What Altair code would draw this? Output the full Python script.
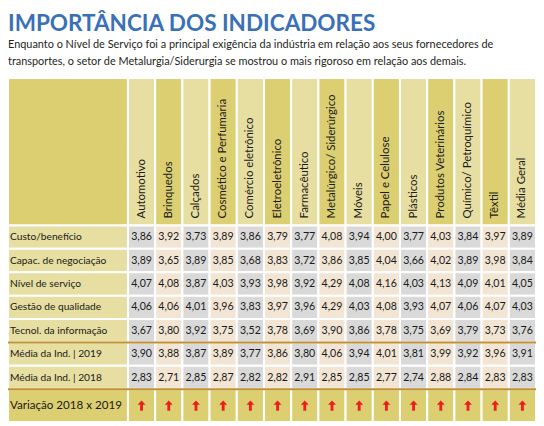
import altair as alt
import pandas as pd

title = "IMPORTÂNCIA DOS INDICADORES"
subtitle = [
    "Enquanto o Nível de Serviço foi a principal exigência da indústria em relação aos seus fornecedores de",
    "transportes, o setor de Metalurgia/Siderurgia se mostrou o mais rigoroso em relação aos demais.",
]
sectors = ["Automotivo", "Brinquedos", "Calçados", "Cosmético e Perfumaria", "Comércio eletrônico",
           "Eletroeletrônico", "Farmacêutico", "Metalúrgico/ Siderúrgico", "Móveis", "Papel e Celulose",
           "Plásticos", "Produtos Veterinários", "Químico/ Petroquímico", "Têxtil", "Média Geral"]
indicators = ["Custo/benefício", "Capac. de negociação", "Nível de serviço", "Gestão de qualidade",
              "Tecnol. da informação", "Média da Ind. | 2019", "Média da Ind. | 2018"]
custo = [3.86, 3.92, 3.73, 3.89, 3.86, 3.79, 3.77, 4.08, 3.94, 4.00, 3.77, 4.03, 3.84, 3.97, 3.89]
capac = [3.89, 3.65, 3.89, 3.85, 3.68, 3.83, 3.72, 3.86, 3.85, 4.04, 3.66, 4.02, 3.89, 3.98, 3.84]
nivel = [4.07, 4.08, 3.87, 4.03, 3.93, 3.98, 3.92, 4.29, 4.08, 4.16, 4.03, 4.13, 4.09, 4.01, 4.05]
gestao = [4.06, 4.06, 4.01, 3.96, 3.83, 3.97, 3.96, 4.29, 4.03, 4.08, 3.93, 4.07, 4.06, 4.07, 4.03]
tecnol = [3.67, 3.80, 3.92, 3.75, 3.52, 3.78, 3.69, 3.90, 3.86, 3.78, 3.75, 3.69, 3.79, 3.73, 3.76]
media2019 = [3.90, 3.88, 3.87, 3.89, 3.77, 3.86, 3.80, 4.06, 3.94, 4.01, 3.81, 3.99, 3.92, 3.96, 3.91]
media2018 = [2.83, 2.71, 2.85, 2.87, 2.82, 2.82, 2.91, 2.85, 2.85, 2.77, 2.74, 2.88, 2.84, 2.83, 2.83]
footer_label = "Variação 2018 x 2019"

series = [custo, capac, nivel, gestao, tecnol, media2019, media2018]

# ---- layout / style ----
NCOL = len(sectors)
NROW = len(indicators)
LW = 4.41   # label column width (column units)
HH = 6.3    # header height (row units)
FH = 1.4    # footer height (row units)
DARK = "#dccf72"
LIGHT = "#e7dfa1"
GRAY = "#d9d9d9"
BEIGE = "#f2e5d3"
LINE = "#bf8f30"
FONT = "Lato, Roboto, sans-serif"

xs = alt.Scale(domain=[-LW, NCOL], nice=False, zero=False)
ys = alt.Scale(domain=[-HH, NROW + FH], nice=False, zero=False, reverse=True)

rects = []
rects.append(dict(x0=-LW, x1=0, y0=-HH, y1=0, fill=DARK))
for i in range(NCOL):
    rects.append(dict(x0=i, x1=i + 1, y0=-HH, y1=0, fill=LIGHT if i % 2 == 0 else DARK))
for r in range(NROW):
    rects.append(dict(x0=-LW, x1=0, y0=r, y1=r + 1, fill=LIGHT))
    for i in range(NCOL):
        rects.append(dict(x0=i, x1=i + 1, y0=r, y1=r + 1, fill=GRAY if i % 2 == 0 else BEIGE))
rects.append(dict(x0=-LW, x1=0, y0=NROW, y1=NROW + FH, fill=DARK))
for i in range(NCOL):
    rects.append(dict(x0=i, x1=i + 1, y0=NROW, y1=NROW + FH, fill=DARK))
rect_df = pd.DataFrame(rects)

head_df = pd.DataFrame({"xc": [i + 0.5 for i in range(NCOL)], "yc": [0] * NCOL, "name": sectors})

cell_rows = []
for r, vals in enumerate(series):
    for i, v in enumerate(vals):
        cell_rows.append(dict(xc=i + 0.5, yc=r + 0.5, txt=f"{v:.2f}".replace(".", ",")))
cell_df = pd.DataFrame(cell_rows)

lab_df = pd.DataFrame({"xc": [-LW] * NROW, "yc": [r + 0.5 for r in range(NROW)], "txt": indicators})
foot_df = pd.DataFrame({"xc": [-LW], "yc": [NROW + FH / 2], "txt": [footer_label]})

arrow_df = pd.DataFrame({
    "xc": [i + 0.5 for i in range(NCOL)],
    "yc": [NROW + FH / 2] * NCOL,
    "up": [a > b for a, b in zip(media2019, media2018)],
})
arrow_df = arrow_df[arrow_df["up"]]

line_df = pd.DataFrame({"x0": [-LW, -LW], "x1": [NCOL, NCOL], "y": [5, NROW]})

base_x = lambda f: alt.X(f, scale=xs, axis=None)
base_y = lambda f: alt.Y(f, scale=ys, axis=None)

rect_layer = alt.Chart(rect_df).mark_rect(stroke="white", strokeWidth=2).encode(
    x=base_x("x0:Q"), x2="x1:Q", y=base_y("y0:Q"), y2="y1:Q",
    color=alt.Color("fill:N", scale=None),
)

lines = alt.Chart(line_df).mark_rule(color=LINE, strokeWidth=2).encode(
    x=base_x("x0:Q"), x2="x1:Q", y=base_y("y:Q"),
)

head_text = alt.Chart(head_df).mark_text(
    angle=270, align="left", baseline="middle", dx=7, font=FONT,
    fontSize=11.4, color="#1a1a1a",
).encode(x=base_x("xc:Q"), y=base_y("yc:Q"), text="name:N")

cell_text = alt.Chart(cell_df).mark_text(
    align="center", baseline="middle", font=FONT, fontSize=10.6, color="#1a1a1a",
).encode(x=base_x("xc:Q"), y=base_y("yc:Q"), text="txt:N")

lab_text = alt.Chart(lab_df).mark_text(
    align="left", baseline="middle", dx=2, font=FONT, fontSize=10.2, color="#1a1a1a",
).encode(x=base_x("xc:Q"), y=base_y("yc:Q"), text="txt:N")

foot_text = alt.Chart(foot_df).mark_text(
    align="left", baseline="middle", dx=2, font=FONT, fontSize=11.6, color="#1a1a1a",
).encode(x=base_x("xc:Q"), y=base_y("yc:Q"), text="txt:N")

ARROW = "M0,-1L0.75,-0.15L0.27,-0.15L0.27,1L-0.27,1L-0.27,-0.15L-0.75,-0.15Z"
arrows = alt.Chart(arrow_df).mark_point(
    shape=ARROW, filled=True, color="#ee1c1c", opacity=1, size=110, strokeWidth=0,
).encode(x=base_x("xc:Q"), y=base_y("yc:Q"))

chart = alt.layer(
    rect_layer, lines, head_text, cell_text, lab_text, foot_text, arrows
).properties(
    width=528,
    height=344,
    autosize=alt.AutoSizeParams(type="none"),
    padding={"left": 0, "top": 70, "right": 0, "bottom": 0},
    title=alt.Title(
        text=title,
        subtitle=subtitle,
        anchor="start",
        frame="group",
        font=FONT,
        fontSize=22.5,
        fontWeight="bold",
        color="#3a70b7",
        subtitleFont=FONT,
        subtitleFontSize=10.9,
        subtitleColor="#231f20",
        subtitleLineHeight=17,
        subtitlePadding=4,
        offset=10,
    ),
).configure_view(stroke=None)

chart.save("out.html", embed_options={"renderer": "svg", "actions": False})
